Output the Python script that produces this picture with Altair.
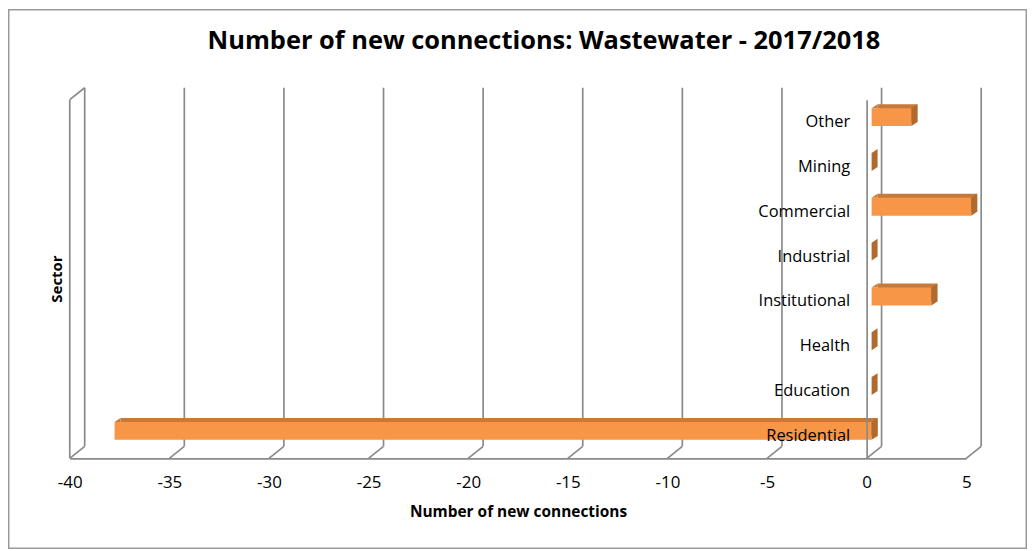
import altair as alt
import pandas as pd

# ---- data ----
categories = ["Residential", "Education", "Health", "Institutional",
              "Industrial", "Commercial", "Mining", "Other"]
values = [-38, 0, 0, 3, 0, 5, 0, 2]
tick_values = [-40, -35, -30, -25, -20, -15, -10, -5, 0, 5]
title_text = "Number of new connections: Wastewater - 2017/2018"
x_title = "Number of new connections"
y_title = "Sector"

order = list(reversed(categories))

bars = pd.DataFrame({"sector": categories, "value": values})
bars["start"] = bars["value"].clip(upper=0)
bars["end"] = bars["value"].clip(lower=0)
nonzero = bars[bars["value"] != 0]
ticks = pd.DataFrame({"t": tick_values})
wall = pd.DataFrame({"t": [tick_values[0]]})
one = pd.DataFrame({"a": [0]})

# ---- style ----
W, H = 900, 360
PAD = {"left": 62, "top": 91, "right": 61, "bottom": 91}
DX, DY = 15, -12
GRID = "#8a8a8a"
FRONT = "#F79646"
TOP = "#C67A3A"
SIDE = "#B0692E"
FONT = "Open Sans"
TXT = "#000000"

xscale = alt.Scale(domain=[tick_values[0], tick_values[-1]], nice=False, zero=False)
yscale = alt.Scale(domain=order, paddingInner=0.6, paddingOuter=0.3)

x_axis = alt.Axis(values=tick_values, title=x_title, grid=False, ticks=False, tickSize=0,
                  domainColor=GRID, domainWidth=1.7, labelFont=FONT, labelFontSize=17,
                  labelColor=TXT, labelPadding=16, labelExpr="'' + datum.value",
                  labelFlush=False, labelOverlap=False,
                  titleFont=FONT, titleFontSize=15.5, titleFontWeight="bold",
                  titleColor=TXT, titlePadding=14, zindex=1)
y_axis = alt.Axis(title=None, ticks=False, tickSize=0, domainColor=GRID, domainWidth=1.7,
                  offset=-800, labelPadding=17, labelFont=FONT, labelFontSize=16.5,
                  labelColor=TXT, labelLimit=0, zindex=1)

X = lambda f: alt.X(f, type="quantitative", scale=xscale, axis=x_axis)
X2 = lambda f: alt.X2(f)
Y = alt.Y("sector:N", scale=yscale, axis=y_axis, sort=order)

border = alt.Chart(one).mark_rect(filled=False, color="#9a9a9a", strokeWidth=1.5).encode(
    x=alt.value(-PAD["left"] + 0.75), x2=alt.value(W + PAD["right"] - 0.75),
    y=alt.value(-PAD["top"] + 0.75), y2=alt.value(H + PAD["bottom"] - 0.75))

back_grid = alt.Chart(ticks).mark_rule(color=GRID, strokeWidth=1.7, xOffset=DX,
                                       yOffset=DY, y2Offset=DY).encode(
    x=X("t"), y=alt.value(0), y2=alt.value(H))

floor_diag = alt.Chart(ticks).mark_rule(color=GRID, strokeWidth=1.7, x2Offset=DX).encode(
    x=X("t"), x2=X2("t"), y=alt.value(H), y2=alt.value(H + DY))

wall_front = alt.Chart(wall).mark_rule(color=GRID, strokeWidth=1.7).encode(
    x=X("t"), y=alt.value(0), y2=alt.value(H))

wall_top = alt.Chart(wall).mark_rule(color=GRID, strokeWidth=1.7, x2Offset=DX).encode(
    x=X("t"), x2=X2("t"), y=alt.value(0), y2=alt.value(DY))

back_face = alt.Chart(nonzero).mark_bar(color=TOP, xOffset=11, x2Offset=11, yOffset=-9).encode(
    x=X("start"), x2=X2("end"), y=Y)

left_cap = alt.Chart(nonzero).mark_point(shape="M5,-14L11,-18L11,-14Z", size=4, filled=True,
                                         opacity=1, color=TOP, strokeWidth=0).encode(
    x=X("start"), y=Y)

front_face = alt.Chart(bars).mark_bar(color=FRONT, xOffset=5, x2Offset=5, yOffset=-5).encode(
    x=X("start"), x2=X2("end"), y=Y)

side_face = alt.Chart(bars).mark_point(shape="M5,-14L11,-18L11,0L5,4Z", size=4, filled=True,
                                       opacity=1, color=SIDE, strokeWidth=0).encode(
    x=X("end"), y=Y)

sector_label = alt.Chart(one).mark_text(angle=270, font=FONT, fontSize=15, fontWeight="bold",
                                        color=TXT, baseline="middle").encode(
    x=alt.value(-13), y=alt.value(H / 2), text=alt.value(y_title))

main_title = alt.Chart(one).mark_text(font=FONT, fontSize=25.5, fontWeight="bold", color=TXT,
                                      baseline="middle", align="center").encode(
    x=alt.value(476), y=alt.value(-59), text=alt.value(title_text))

chart = alt.layer(
    border, back_grid, floor_diag, wall_front, wall_top,
    back_face, left_cap, front_face, side_face, sector_label, main_title
).properties(
    width=W, height=H, padding=PAD, background="white",
    autosize=alt.AutoSizeParams(type="none"),
).configure_view(stroke=None)

chart.save("out.html", embed_options={"renderer": "svg", "actions": False})
